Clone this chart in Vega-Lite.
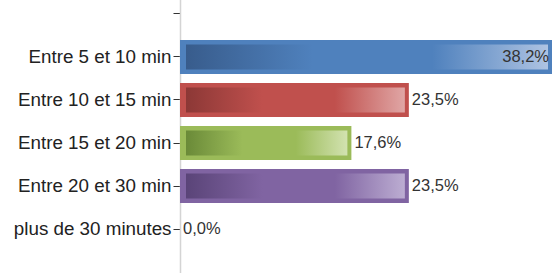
{
  "$schema": "https://vega.github.io/schema/vega-lite/v6.json",
  "autosize": "none",
  "padding": {"left": 180, "top": -3, "right": 3, "bottom": 0},
  "width": 372,
  "height": 292,
  "config": {
    "view": {"stroke": null},
    "font": "Liberation Sans",
    "locale": {"number": {"decimal": ",", "thousands": " ", "grouping": [3], "currency": ["", " €"], "percent": "%"}}
  },
  "data": {"values": [
    {"cat": "Entre 5 et 10 min", "v": 0.382},
    {"cat": "Entre 10 et 15 min", "v": 0.235},
    {"cat": "Entre 15 et 20 min", "v": 0.176},
    {"cat": "Entre 20 et 30 min", "v": 0.235},
    {"cat": "plus de 30 minutes", "v": 0.0}
  ]},
  "encoding": {
    "y": {
      "field": "cat", "type": "nominal",
      "scale": {"domain": ["", "Entre 5 et 10 min", "Entre 10 et 15 min", "Entre 15 et 20 min", "Entre 20 et 30 min", "plus de 30 minutes", " "], "paddingInner": 0.21, "paddingOuter": 0},
      "axis": {
        "title": null,
        "values": ["", "Entre 5 et 10 min", "Entre 10 et 15 min", "Entre 15 et 20 min", "Entre 20 et 30 min", "plus de 30 minutes"],
        "labelFontSize": 18.8, "labelColor": "#222222", "labelPadding": 2,
        "tickSize": 7, "tickColor": "#333333", "tickWidth": 1,
        "domainColor": "#d4d4d4", "domainWidth": 1.5, "labelLimit": 300
      }
    }
  },
  "layer": [
    {
      "mark": {"type": "bar"},
      "encoding": {
        "x": {"field": "v", "type": "quantitative", "scale": {"domain": [0, 0.382], "nice": false}, "axis": null},
        "x2": {"datum": 0},
        "fill": {
          "field": "cat", "type": "nominal", "legend": null,
          "scale": {"domain": ["Entre 5 et 10 min", "Entre 10 et 15 min", "Entre 15 et 20 min", "Entre 20 et 30 min", "plus de 30 minutes"], "range": ["#4f81bd", "#c0504d", "#9bbb59", "#8064a2", "#4bacc6"]}
        }
      }
    },
    {
      "transform": [{"filter": "datum.v > 0"}],
      "mark": {"type": "bar", "size": 25, "xOffset": -4, "x2Offset": 6},
      "encoding": {
        "x": {"field": "v", "type": "quantitative"},
        "x2": {"datum": 0},
        "fill": {
          "condition": [
            {"test": "datum.cat === 'Entre 5 et 10 min'", "value": {"gradient": "linear", "x1": 0, "y1": 0, "x2": 1, "y2": 0, "stops": [{"offset": 0, "color": "#385c8c"}, {"offset": 0.35, "color": "#4f81bd"}, {"offset": 0.68, "color": "#4f81bd"}, {"offset": 1, "color": "#aec3e2"}]}},
            {"test": "datum.cat === 'Entre 10 et 15 min'", "value": {"gradient": "linear", "x1": 0, "y1": 0, "x2": 1, "y2": 0, "stops": [{"offset": 0, "color": "#8c3836"}, {"offset": 0.35, "color": "#c0504d"}, {"offset": 0.68, "color": "#c0504d"}, {"offset": 1, "color": "#e0a6a5"}]}},
            {"test": "datum.cat === 'Entre 15 et 20 min'", "value": {"gradient": "linear", "x1": 0, "y1": 0, "x2": 1, "y2": 0, "stops": [{"offset": 0, "color": "#6a8a38"}, {"offset": 0.35, "color": "#9bbb59"}, {"offset": 0.68, "color": "#9bbb59"}, {"offset": 1, "color": "#d2e2b0"}]}}
          ],
          "value": {"gradient": "linear", "x1": 0, "y1": 0, "x2": 1, "y2": 0, "stops": [{"offset": 0, "color": "#5a4478"}, {"offset": 0.35, "color": "#8064a2"}, {"offset": 0.68, "color": "#8064a2"}, {"offset": 1, "color": "#bcadd2"}]}
        }
      }
    },
    {
      "transform": [{"filter": "datum.v < 0.3"}],
      "mark": {"type": "text", "align": "left", "baseline": "middle", "dx": 3, "fontSize": 16.5, "color": "#333333"},
      "encoding": {
        "x": {"field": "v", "type": "quantitative"},
        "text": {"field": "v", "type": "quantitative", "format": ".1%"}
      }
    },
    {
      "transform": [{"filter": "datum.v >= 0.3"}],
      "mark": {"type": "text", "align": "right", "baseline": "middle", "dx": -3, "fontSize": 16.5, "color": "#333333"},
      "encoding": {
        "x": {"field": "v", "type": "quantitative"},
        "text": {"field": "v", "type": "quantitative", "format": ".1%"}
      }
    }
  ]
}
